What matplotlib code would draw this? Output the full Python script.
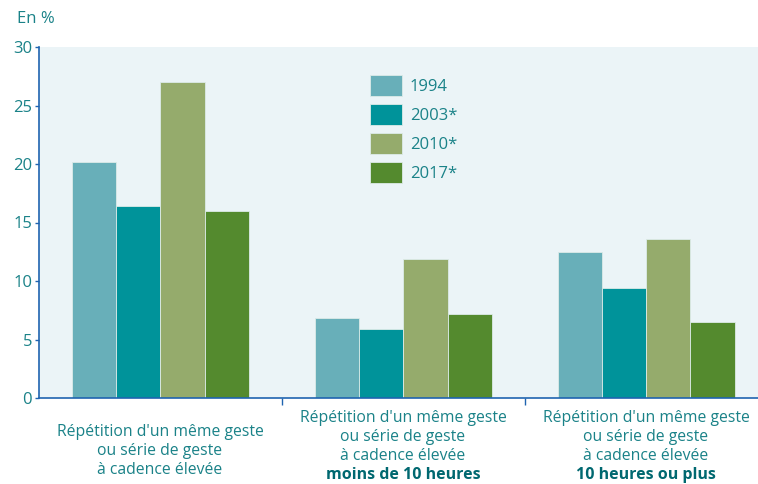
import matplotlib
matplotlib.use("Agg")
import matplotlib.pyplot as plt
import numpy as np

# donnees
annees = ["1994", "2003*", "2010*", "2017*"]
v1994 = [20.2, 6.85, 12.5]
v2003 = [16.4, 5.9, 9.4]
v2010 = [27.0, 11.9, 13.6]
v2017 = [16.0, 7.2, 6.5]
series = [v1994, v2003, v2010, v2017]
lignes = "Répétition d'un même geste\nou série de geste\nà cadence élevée"
sous_titres = ["", "moins de 10 heures", "10 heures ou plus"]

couleurs = ["#68afb9", "#00939a", "#95ab6c", "#548a2e"]
teal = "#1a8288"
bleu = "#1f64b0"

plt.rcParams["font.family"] = ["Open Sans", "DejaVu Sans"]

W, H = 758, 484
fig = plt.figure(figsize=(W / 100, H / 100), dpi=100)
ax = fig.add_axes([39 / W, (H - 398) / H, (W - 39) / W, (398 - 47) / H])
ax.set_facecolor("#ebf4f7")

x = np.arange(3)
larg = 0.182
for i, (vals, c, lab) in enumerate(zip(series, couleurs, annees)):
    ax.bar(x + (i - 1.5) * larg, vals, larg, color=c, label=lab,
           edgecolor="#dcebe8", linewidth=0.6, zorder=2)

ax.set_xlim(-0.5, 2.46)
ax.set_ylim(0, 30)
ax.set_yticks(range(0, 31, 5))
ax.tick_params(axis="y", colors=bleu, labelcolor=teal, labelsize=12,
               length=3, width=1, pad=2)
ax.set_xticks([0.5, 1.5])
ax.set_xticklabels([])
ax.tick_params(axis="x", colors=bleu, length=5, width=1, direction="out")
for s in ["top", "right"]:
    ax.spines[s].set_visible(False)
ax.spines["left"].set_color(bleu)
ax.spines["bottom"].set_color(bleu)
ax.spines["left"].set_linewidth(1.2)
ax.spines["bottom"].set_linewidth(1.2)

fig.text(17 / W, 1 - 19 / H, "En %", color=teal, fontsize=12, va="center")

centres = [160, 403, 646]
for k, cx in enumerate(centres):
    y0 = 432 if k == 0 else 418
    for j, l in enumerate(lignes.split("\n")):
        fig.text(cx / W, 1 - (y0 + 19 * j) / H, l, color=teal, fontsize=11.3,
                 ha="center", va="center")
    if sous_titres[k]:
        fig.text(cx / W, 1 - (y0 + 19 * 3) / H, sous_titres[k], color="#006870",
                 fontsize=11.5, fontweight="bold", ha="center", va="center")

leg = ax.legend(loc="upper left", bbox_to_anchor=(370 / W, 1 - 75 / H),
                bbox_transform=fig.transFigure, frameon=False, fontsize=12,
                handlelength=1.9, handleheight=1.56, labelspacing=0.48,
                handletextpad=0.5, borderpad=0, borderaxespad=0)
for t in leg.get_texts():
    t.set_color(teal)

fig.savefig("out.png", dpi=100)
